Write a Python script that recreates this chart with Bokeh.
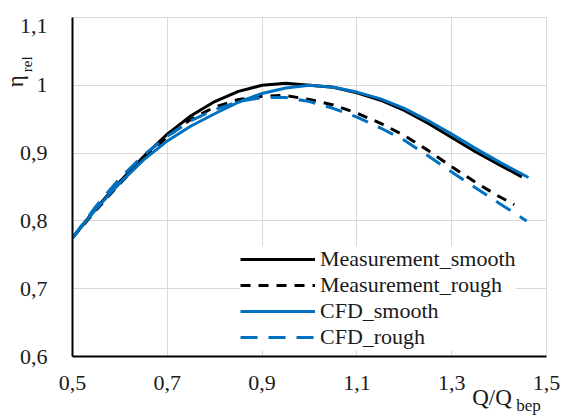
from bokeh.plotting import figure
from bokeh.models import (Range1d, FixedTicker, CustomJSTickFormatter, Legend, LegendItem, LinearAxis)
from bokeh.embed import file_html
from bokeh.resources import INLINE

# ---- data ----
x_meas_smooth = [0.5, 0.55, 0.6, 0.65, 0.7, 0.75, 0.8, 0.85, 0.9, 0.95, 1.0, 1.05, 1.1, 1.15, 1.2, 1.25, 1.3, 1.35, 1.4, 1.448]
y_meas_smooth = [0.775, 0.819, 0.858, 0.895, 0.928, 0.955, 0.976, 0.991, 1.000, 1.003, 1.0, 0.997, 0.989, 0.978, 0.963, 0.944, 0.923, 0.902, 0.883, 0.865]

x_meas_rough = [0.5, 0.55, 0.6, 0.65, 0.7, 0.75, 0.8, 0.85, 0.9, 0.95, 1.0, 1.05, 1.1, 1.15, 1.2, 1.25, 1.3, 1.35, 1.4, 1.432]
y_meas_rough = [0.775, 0.816, 0.855, 0.892, 0.924, 0.950, 0.968, 0.979, 0.984, 0.985, 0.979, 0.971, 0.959, 0.944, 0.926, 0.904, 0.880, 0.857, 0.836, 0.824]

x_cfd_smooth = [0.5, 0.55, 0.6, 0.65, 0.7, 0.75, 0.8, 0.85, 0.9, 0.95, 1.0, 1.05, 1.1, 1.15, 1.2, 1.25, 1.3, 1.35, 1.4, 1.462]
y_cfd_smooth = [0.775, 0.818, 0.856, 0.890, 0.918, 0.940, 0.958, 0.975, 0.988, 0.996, 1.0, 0.997, 0.990, 0.980, 0.966, 0.948, 0.928, 0.907, 0.887, 0.864]

x_cfd_rough = [0.5, 0.55, 0.6, 0.65, 0.7, 0.75, 0.8, 0.85, 0.9, 0.95, 1.0, 1.05, 1.1, 1.15, 1.2, 1.25, 1.3, 1.35, 1.4, 1.458]
y_cfd_rough = [0.775, 0.822, 0.863, 0.897, 0.925, 0.948, 0.964, 0.976, 0.982, 0.982, 0.976, 0.966, 0.953, 0.937, 0.919, 0.896, 0.872, 0.849, 0.826, 0.800]

x_ticks = [0.5, 0.7, 0.9, 1.1, 1.3, 1.5]
y_ticks = [0.6, 0.7, 0.8, 0.9, 1.0, 1.1]

labels = ["Measurement_smooth", "Measurement_rough", "CFD_smooth", "CFD_rough"]
y_title = ("η", "rel")
x_title = ("Q/Q", "bep")

BLUE = "#0070C0"
FONT = "Liberation Serif"
TXT = "#1a1a1a"

p = figure(width=573, height=417, output_backend="svg", toolbar_location=None,
           x_range=Range1d(0.5, 1.5), y_range=Range1d(0.6, 1.1),
           min_border_left=69, min_border_right=27, min_border_top=17, min_border_bottom=59)
p.outline_line_color = "#d9d9d9"
p.outline_line_width = 1
p.background_fill_color = "white"
p.border_fill_color = "white"

# main axes -------------------------------------------------------------
p.xaxis.ticker = FixedTicker(ticks=x_ticks)
p.xaxis.formatter = CustomJSTickFormatter(code="""
    const v = Math.round(tick*10)/10;
    return v.toString().replace('.', ',');
""")
# the top y label sits a little below its gridline, as in the reference
p.yaxis.ticker = FixedTicker(ticks=y_ticks[:-1] + [y_ticks[-1] - 0.012])
p.yaxis.formatter = CustomJSTickFormatter(code="""
    const v = Math.round(tick*10)/10;
    return v.toString().replace('.', ',');
""")

def style_axis(ax, size, standoff):
    ax.axis_line_color = "black"
    ax.axis_line_width = 2
    ax.major_tick_line_color = None
    ax.minor_tick_line_color = None
    ax.major_tick_out = 0
    ax.major_tick_in = 0
    ax.minor_tick_out = 0
    ax.minor_tick_in = 0
    ax.major_label_text_font = FONT
    ax.major_label_text_font_size = size
    ax.major_label_text_color = TXT
    ax.major_label_standoff = standoff

style_axis(p.xaxis[0], "22px", 19)
style_axis(p.yaxis[0], "22px", 25)

p.xgrid.ticker = FixedTicker(ticks=x_ticks)
p.ygrid.ticker = FixedTicker(ticks=y_ticks)
p.grid.grid_line_color = "#d9d9d9"
p.grid.grid_line_width = 1

# axis titles, drawn as single-tick label axes so they can sit outside the frame
def title_axis(text, pos, size, standoff, vertical=False):
    ax = LinearAxis(ticker=FixedTicker(ticks=[pos]),
                    formatter=CustomJSTickFormatter(code="return %r;" % text))
    style_axis(ax, size, standoff)
    ax.axis_line_color = None
    if vertical:
        ax.major_label_orientation = "vertical"
    return ax

p.add_layout(title_axis(y_title[0], 1.006, "23px", -12, vertical=True), "left")
p.add_layout(title_axis(y_title[1], 1.031, "15px", -35, vertical=True), "left")
p.add_layout(title_axis(x_title[1], 1.462, "17px", 3), "below")
p.add_layout(title_axis(x_title[0], 1.385, "23px", -33), "below")

# curves ----------------------------------------------------------------
r1 = p.line(x_meas_smooth, y_meas_smooth, line_color="black", line_width=3)
r2 = p.line(x_meas_rough, y_meas_rough, line_color="black", line_width=3, line_dash="10 8")
r3 = p.line(x_cfd_smooth, y_cfd_smooth, line_color=BLUE, line_width=3)
r4 = p.line(x_cfd_rough, y_cfd_rough, line_color=BLUE, line_width=3, line_dash="17 11")

legend = Legend(items=[LegendItem(label=labels[i], renderers=[r]) for i, r in enumerate([r1, r2, r3, r4])],
                location=(168, 6), orientation="vertical",
                glyph_width=75, glyph_height=22, label_height=22, label_standoff=5, spacing=0,
                padding=6, margin=0,
                border_line_color=None, background_fill_color="white", background_fill_alpha=1.0,
                label_text_font=FONT, label_text_font_size="22px", label_text_color=TXT)
p.add_layout(legend, "center")

open("out.html", "w").write(file_html(p, INLINE))
